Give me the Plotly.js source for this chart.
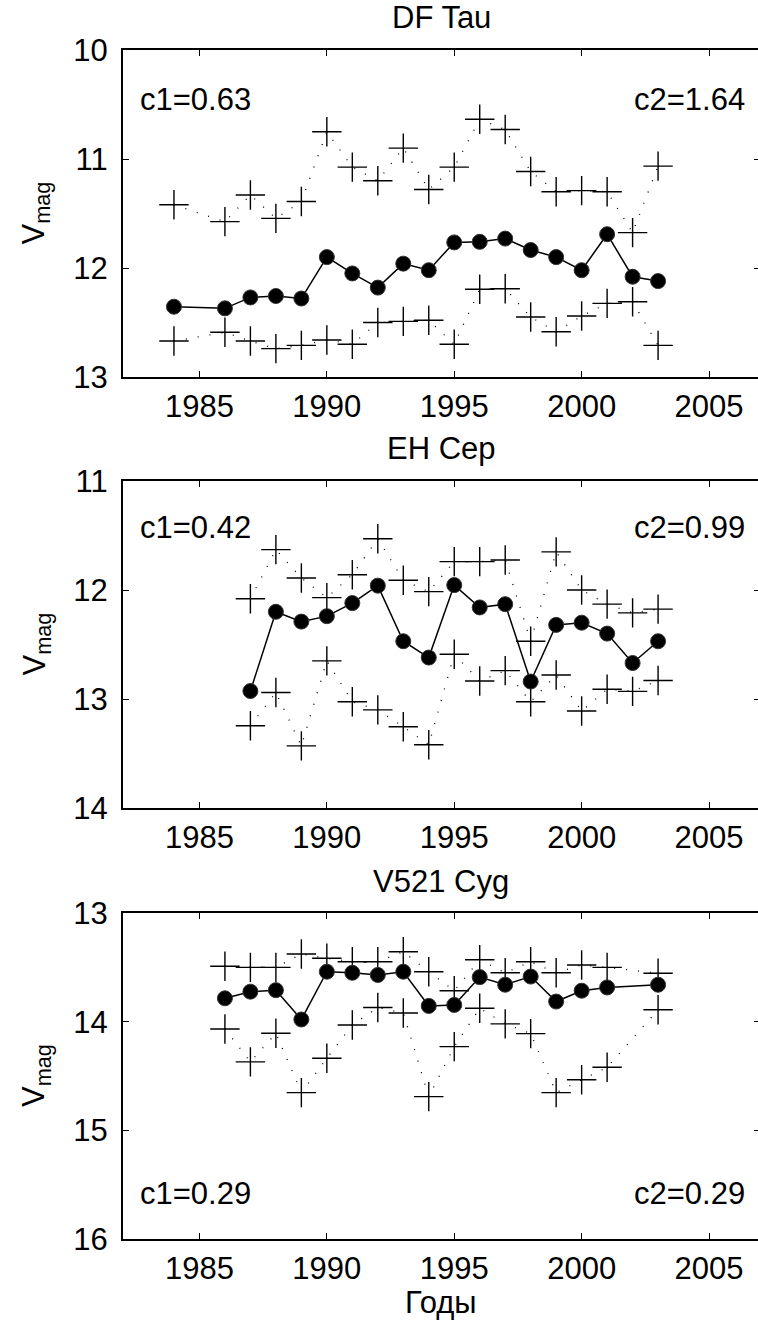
<!DOCTYPE html>
<html>
<head>
<meta charset="utf-8">
<script src="https://cdn.plot.ly/plotly-3.0.1.min.js"></script>
<style>
html,body{margin:0;padding:0;overflow:hidden;background:#fff;}
#chart{width:760px;height:1321px;}
</style>
</head>
<body>
<div id="chart"></div>
<script>
// ---------------- DATA ----------------
const titles = ["DF Tau", "EH Cep", "V521 Cyg"];
const c1Labels = ["c1=0.63", "c1=0.42", "c1=0.29"];
const c2Labels = ["c2=1.64", "c2=0.99", "c2=0.29"];
const yTitle = "V<sub>mag</sub>";
const xTitle = "Годы";

// DF Tau
const yearsDF = [1984,1986,1987,1988,1989,1990,1991,1992,1993,1994,1995,1996,1997,1998,1999,2000,2001,2002,2003];
const meanDF  = [12.355,12.37,12.27,12.257,12.28,11.90,12.05,12.18,11.96,12.02,11.765,11.76,11.73,11.835,11.90,12.02,11.69,12.08,12.12];
const upperDF = [11.42,11.575,11.33,11.545,11.39,10.75,11.075,11.20,10.90,11.28,11.075,10.636,10.73,11.115,11.30,11.29,11.30,11.675,11.065];
const lowerDF = [12.67,12.59,12.67,12.74,12.71,12.66,12.70,12.50,12.49,12.48,12.70,12.195,12.19,12.45,12.585,12.44,12.325,12.31,12.71];

// EH Cep
const yearsEH = [1987,1988,1989,1990,1991,1992,1993,1994,1995,1996,1997,1998,1999,2000,2001,2002,2003];
const meanEH  = [12.927,12.20,12.29,12.24,12.12,11.96,12.47,12.62,11.955,12.16,12.13,12.84,12.32,12.30,12.40,12.67,12.47];
const upperEH = [12.08,11.63,11.89,12.07,11.86,11.53,11.91,12.015,11.74,11.74,11.725,12.47,11.65,12.00,12.13,12.21,12.175];
const lowerEH = [13.245,12.94,13.43,12.65,13.025,13.10,13.255,13.42,12.59,12.835,12.74,13.025,12.78,13.11,12.91,12.93,12.83];

// V521 Cyg
const yearsV5 = [1986,1987,1988,1989,1990,1991,1992,1993,1994,1995,1996,1997,1998,1999,2000,2001,2003];
const meanV5  = [13.785,13.724,13.71,13.98,13.54,13.55,13.57,13.54,13.855,13.846,13.59,13.66,13.585,13.815,13.715,13.685,13.66];
const upperV5 = [13.49,13.50,13.50,13.377,13.417,13.448,13.448,13.356,13.54,13.715,13.43,13.55,13.448,13.55,13.478,13.50,13.555];
const lowerV5 = [14.067,14.37,14.107,14.653,14.337,14.03,13.87,13.92,14.69,14.23,13.877,14.02,14.11,14.653,14.535,14.42,13.89];

const yRanges = [[13,10],[14,11],[16,13]];
const xRange = [1982, 2007];
const xTicks = [1985,1990,1995,2000,2005];

// ---------------- LAYOUT HELPERS ----------------
const W = 760, H = 1321;
const FONT = "Liberation Sans, Arial, Helvetica, sans-serif";
const FS = 31;
const px = x => x / W;
const py = y => 1 - y / H;

const panels = [
  {years: yearsDF, mean: meanDF, upper: upperDF, lower: lowerDF, top: 50,  bottom: 377},
  {years: yearsEH, mean: meanEH, upper: upperEH, lower: lowerEH, top: 481, bottom: 808},
  {years: yearsV5, mean: meanV5, upper: upperV5, lower: lowerV5, top: 913, bottom: 1239}
];
const plotLeft = 123;

const traces = [];
const layout = {
  width: W, height: H,
  margin: {l:0, r:0, t:0, b:0},
  paper_bgcolor: "#fff", plot_bgcolor: "#fff",
  showlegend: false,
  font: {family: FONT, size: FS, color: "#000"},
  annotations: []
};

panels.forEach((p, i) => {
  const n = i === 0 ? "" : String(i + 1);
  const xa = "x" + n, ya = "y" + n;
  const dotted = {color: "#000", width: 1.3, dash: "1px,11px"};
  const cross = {symbol: "cross-thin", size: 21, line: {color: "#000", width: 1.4}};
  traces.push({x: p.years, y: p.upper, xaxis: xa, yaxis: ya, type: "scatter", mode: "lines+markers",
               line: dotted, marker: cross, hoverinfo: "skip"});
  traces.push({x: p.years, y: p.lower, xaxis: xa, yaxis: ya, type: "scatter", mode: "lines+markers",
               line: dotted, marker: cross, hoverinfo: "skip"});
  traces.push({x: p.years, y: p.mean, xaxis: xa, yaxis: ya, type: "scatter", mode: "lines+markers",
               line: {color: "#000", width: 1.5},
               marker: {symbol: "circle", size: 15, color: "#000", line: {color: "#333", width: 1}},
               hoverinfo: "skip"});

  const common = {
    showline: true, linecolor: "#000", linewidth: 2, mirror: "allticks",
    ticks: "inside", ticklen: 6, tickwidth: 1, tickcolor: "#000",
    showgrid: false, zeroline: false,
    tickfont: {family: FONT, size: FS, color: "#000"}
  };
  layout["xaxis" + n] = Object.assign({}, common, {
    domain: [px(plotLeft), 1], range: xRange, anchor: ya,
    tickmode: "array", tickvals: xTicks, ticktext: xTicks.map(String),
    ticklabelstandoff: 1
  });
  layout["yaxis" + n] = Object.assign({}, common, {
    domain: [py(p.bottom), py(p.top)], range: yRanges[i], anchor: xa,
    dtick: 1, tick0: 0, ticklabelstandoff: 7
  });

  // panel title
  layout.annotations.push({xref: "paper", yref: "paper", x: px((plotLeft + W) / 2), y: py(p.top - 32),
    text: titles[i], showarrow: false, xanchor: "center", yanchor: "middle",
    font: {family: FONT, size: FS, color: "#000"}});
  // y title
  layout.annotations.push({xref: "paper", yref: "paper", x: px(36), y: py((p.top + p.bottom) / 2),
    text: yTitle, textangle: -90, showarrow: false, xanchor: "center", yanchor: "middle",
    font: {family: FONT, size: FS, color: "#000"}});
  // c1 / c2
  const cy = i === 2 ? 1193 : (i === 0 ? 100 : 527);
  layout.annotations.push({xref: "paper", yref: "paper", x: px(138), y: py(cy),
    text: c1Labels[i], showarrow: false, xanchor: "left", yanchor: "middle",
    font: {family: FONT, size: FS, color: "#000"}});
  layout.annotations.push({xref: "paper", yref: "paper", x: px(747), y: py(cy),
    text: c2Labels[i], showarrow: false, xanchor: "right", yanchor: "middle",
    font: {family: FONT, size: FS, color: "#000"}});
});

// x title
layout.annotations.push({xref: "paper", yref: "paper", x: px((plotLeft + W) / 2), y: 0,
  text: xTitle, showarrow: false, xanchor: "center", yanchor: "bottom", borderpad: 0,
  font: {family: FONT, size: FS, color: "#000"}});

Plotly.newPlot("chart", traces, layout, {staticPlot: true, displayModeBar: false});
</script>
</body>
</html>
